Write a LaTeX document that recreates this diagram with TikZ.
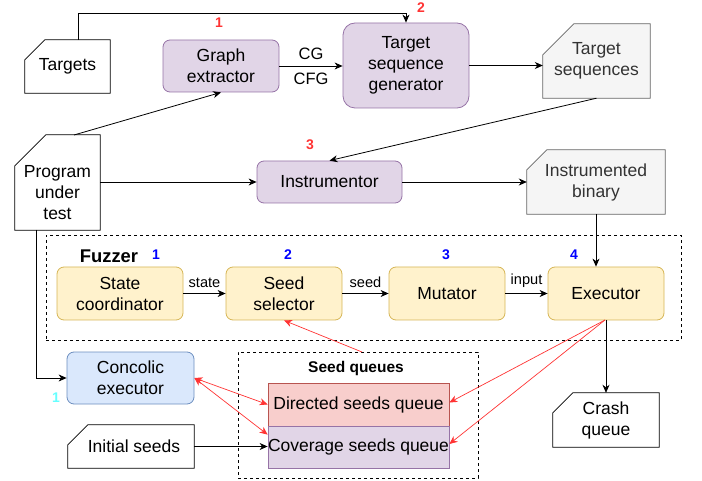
\documentclass[tikz,border=0pt]{standalone}
\usepackage{fontspec}
\setmainfont{Liberation Sans}
\usetikzlibrary{arrows.meta,calc,backgrounds}
\definecolor{purfill}{HTML}{E1D5E7}
\definecolor{purline}{HTML}{9673A6}
\definecolor{yelfill}{HTML}{FFF2CC}
\definecolor{yelline}{HTML}{D6B656}
\definecolor{blufill}{HTML}{DAE8FC}
\definecolor{bluline}{HTML}{6C8EBF}
\definecolor{redfill}{HTML}{F8CECC}
\definecolor{redline}{HTML}{B85450}
\definecolor{grayfill}{HTML}{F5F5F5}
\definecolor{grayline}{HTML}{666666}
\definecolor{graytext}{HTML}{333333}
\definecolor{redarrow}{HTML}{FF3333}
\definecolor{numred}{HTML}{FF3333}
\definecolor{numblue}{HTML}{0000FF}
\definecolor{numcyan}{HTML}{66FFFF}
\tikzset{
  txt/.style={font=\fontsize{17.5}{21}\selectfont, align=center},
  small/.style={font=\fontsize{14.6}{17}\selectfont},
  lbl/.style={font=\fontsize{16.5}{19}\selectfont},
  num/.style={font=\fontsize{14}{16}\selectfont\bfseries},
  box/.style={draw, rounded corners=7pt, inner sep=0pt, line width=0.8pt, txt},
  purbox/.style={box, fill=purfill, draw=purline},
  yelbox/.style={box, fill=yelfill, draw=yelline},
  cardnode/.style={rectangle, inner sep=0pt, txt},
  cardline/.style={draw=black, fill=white, line width=0.8pt},
  graycard/.style={draw=grayline, fill=grayfill, line width=0.8pt},
  arr/.style={-{Stealth[length=8pt,width=7pt,inset=2.5pt]}, line width=0.8pt},
  redarr/.style={-{Stealth[length=8pt,width=7pt,inset=2.5pt]}, line width=0.7pt, draw=redarrow},
  dashbox/.style={draw, dashed, line width=0.8pt},
}
\newcommand{\cardoutline}[3]{%
  \begin{pgfonlayer}{background}
  \path[#1] ($(#2.north west)+(0,#3)$) -- ($(#2.north west)+(#3,0)$) -- (#2.north east) -- (#2.south east) -- (#2.south west) -- cycle;
  \end{pgfonlayer}}
\begin{document}
\begin{tikzpicture}[x=1pt,y=-1pt]
\useasboundingbox (0,0) rectangle (702,481);
% top row
\node[cardnode, minimum width=85pt, minimum height=53pt] (targets) at (67.5,66.5) {Targets};
\cardoutline{cardline}{targets}{20}
\node[purbox, minimum width=116pt, minimum height=52pt] (graph) at (221,66) {Graph\\extractor};
\node[purbox, rounded corners=12pt, minimum width=126pt, minimum height=85pt] (tsg) at (406,65.5) {Target\\sequence\\generator};
\node[cardnode, text=graytext, minimum width=107pt, minimum height=74pt] (tseq) at (596.5,61) {Target\\sequences};
\cardoutline{graycard}{tseq}{31}
% second row
\node[cardnode, minimum width=85pt, minimum height=95pt] (program) at (57.5,182.5) {};
\cardoutline{cardline}{program}{31}
\node[txt] (programtxt) at (57.5,193) {Program\\under\\test};
\node[purbox, minimum width=145pt, minimum height=42pt] (instr) at (329.5,182) {Instrumentor};
\node[cardnode, text=graytext, minimum width=138pt, minimum height=64pt] (ibin) at (596,182) {Instrumented\\binary};
\cardoutline{graycard}{ibin}{20}
% fuzzer
\node[dashbox, minimum width=635pt, minimum height=105pt, inner sep=0pt] (fuzzer) at (363.5,287.5) {};
\node[font=\fontsize{18.4}{20}\selectfont\bfseries] (fuzzertxt) at (109,256) {Fuzzer};
\node[yelbox, minimum width=126pt, minimum height=53pt] (sc) at (120,293.5) {State\\coordinator};
\node[yelbox, minimum width=116pt, minimum height=53pt] (ss) at (284,293.5) {Seed\\selector};
\node[yelbox, minimum width=116pt, minimum height=53pt] (mut) at (447,293.5) {Mutator};
\node[yelbox, minimum width=116pt, minimum height=53pt] (exe) at (606,293.5) {Executor};
\node[num, text=numblue] (b1) at (156,255) {1};
\node[num, text=numblue] (b2) at (288,255) {2};
\node[num, text=numblue] (b3) at (446,255) {3};
\node[num, text=numblue] (b4) at (574,255) {4};
% bottom
\node[box, fill=blufill, draw=bluline, minimum width=127pt, minimum height=52pt] (concolic) at (130.5,378) {Concolic\\executor};
\node[num, text=numcyan] (c1) at (56,398) {1};
\node[dashbox, minimum width=240pt, minimum height=126pt, inner sep=0pt] (seedq) at (358,415) {};
\node[font=\fontsize{15.5}{17}\selectfont\bfseries] (seedqtxt) at (356,368) {Seed queues};
\node[draw=redline, fill=redfill, line width=0.8pt, txt, minimum width=181pt, minimum height=43pt, inner sep=0pt] (dq) at (358.5,404.5) {Directed seeds queue};
\node[draw=purline, fill=purfill, line width=0.8pt, txt, minimum width=181pt, minimum height=42pt, inner sep=0pt] (cq) at (358.5,447) {Coverage seeds queue};
\node[cardnode, minimum width=126pt, minimum height=43pt] (initial) at (131,446.5) {\hspace{6pt}Initial seeds};
\cardoutline{cardline}{initial}{20}
\node[cardnode, minimum width=106pt, minimum height=54pt] (crash) at (606,420) {Crash\\queue};
\cardoutline{cardline}{crash}{20}
% numbers
\node[num, text=numred] (r1) at (219,23) {1};
\node[num, text=numred] (r2) at (421,8) {2};
\node[num, text=numred] (r3) at (310,145) {3};
% connectors
\coordinate (ttop) at (78,40);
\coordinate (tcorner) at (406,13);
\draw[arr] (ttop) |- (tcorner) -- (tsg.north);
\draw[arr] (graph.east) -- (graph.east -| tsg.west)
  node[pos=0.5, above=3pt, lbl] {CG}
  node[pos=0.5, below=3pt, lbl] {CFG};
\draw[arr] (tsg.east) -- (tsg.east -| tseq.west);
\draw[arr] (tseq.south) -- (instr.north);
\coordinate (ptop) at (74,135);
\draw[arr] (ptop) -- (graph.south);
\draw[arr] (program.east |- instr.west) -- (instr.west);
\draw[arr] (instr.east) -- (instr.east -| ibin.west);
\draw[arr] (ibin.south) -- (ibin.south |- exe.north);
\coordinate (pbot) at (36,230);
\draw[arr] (pbot) |- (concolic.west);
\draw[arr] (sc.east) -- (ss.west) node[midway, above=2pt, small] {state};
\draw[arr] (ss.east) -- (mut.west) node[midway, above=2pt, small] {seed};
\draw[arr] (mut.east) -- (exe.west) node[midway, above=2pt, small] {input};
\draw[arr] (exe.south) -- (exe.south |- crash.north);
\coordinate (exebot) at (605,320);
\draw[redarr] (exebot) -- ($(dq.east)+(0,-2)$);
\draw[redarr] (exebot) -- ($(cq.east)+(0,-3)$);
\coordinate (sqtop) at (362,352);
\draw[redarr] (sqtop) -- (ss.south);
\draw[redarr, {Stealth[length=8pt,width=7pt,inset=2.5pt]}-{Stealth[length=8pt,width=7pt,inset=2.5pt]}] (concolic.east) -- (dq.west);
\draw[redarr, {Stealth[length=8pt,width=7pt,inset=2.5pt]}-{Stealth[length=8pt,width=7pt,inset=2.5pt]}] (concolic.east) -- ($(cq.north west)+(0,9)$);
\draw[arr] (initial.east) -- (initial.east -| cq.west);
\end{tikzpicture}
\end{document}
